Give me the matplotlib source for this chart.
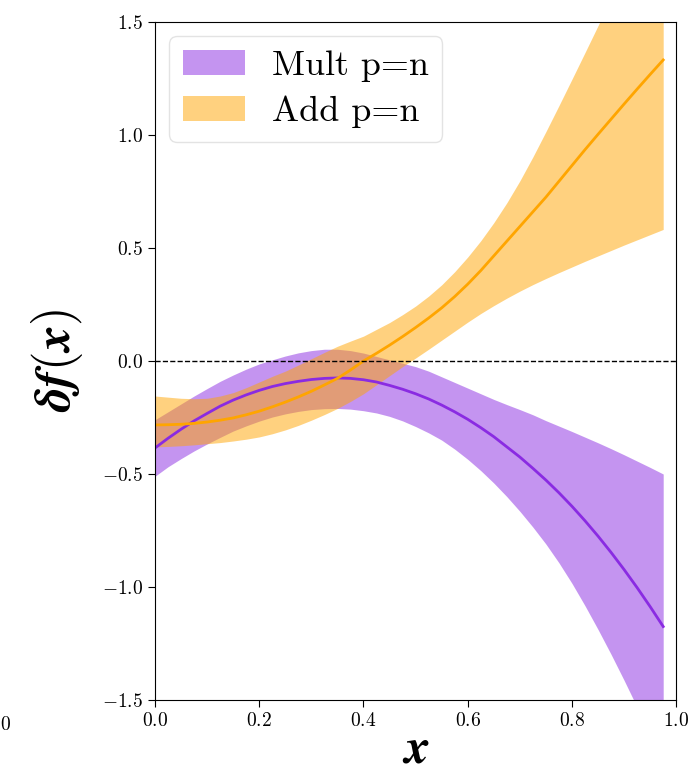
import numpy as np
import matplotlib
matplotlib.use("Agg")
import matplotlib.pyplot as plt

plt.rcParams['mathtext.fontset'] = 'cm'
plt.rcParams['font.family'] = 'serif'
plt.rcParams['font.serif'] = ['cmr10', 'DejaVu Serif']

# sample points
x = [0.0, 0.025, 0.05, 0.075, 0.10, 0.125, 0.15, 0.175, 0.20, 0.225,
     0.25, 0.275, 0.30, 0.325, 0.35, 0.375, 0.40, 0.425, 0.45, 0.475,
     0.50, 0.525, 0.55, 0.575, 0.60, 0.625, 0.65, 0.675, 0.70, 0.725,
     0.75, 0.775, 0.80, 0.825, 0.85, 0.875, 0.90, 0.925, 0.95, 0.975]

add_mid = [-0.283, -0.282, -0.280, -0.276, -0.270, -0.262, -0.252, -0.238, -0.222, -0.203,
           -0.182, -0.159, -0.134, -0.106, -0.077, -0.040, 0.0, 0.034, 0.070, 0.108,
           0.148, 0.190, 0.235, 0.285, 0.340, 0.400, 0.465, 0.530, 0.595, 0.660,
           0.725, 0.795, 0.865, 0.935, 1.003, 1.070, 1.137, 1.203, 1.268, 1.332]
add_hi = [-0.155, -0.160, -0.165, -0.167, -0.165, -0.155, -0.140, -0.118, -0.093, -0.068,
          -0.045, -0.018, 0.010, 0.038, 0.065, 0.088, 0.110, 0.140, 0.170, 0.205,
          0.243, 0.287, 0.337, 0.395, 0.460, 0.532, 0.612, 0.700, 0.797, 0.903,
          1.015, 1.130, 1.247, 1.365, 1.484, 1.603, 1.722, 1.840, 1.960, 2.080]
add_lo = [-0.380, -0.378, -0.375, -0.371, -0.366, -0.361, -0.354, -0.346, -0.336, -0.322,
          -0.305, -0.285, -0.262, -0.237, -0.210, -0.179, -0.145, -0.105, -0.065, -0.025,
          0.013, 0.052, 0.092, 0.132, 0.172, 0.210, 0.245, 0.278, 0.309, 0.338,
          0.365, 0.391, 0.416, 0.441, 0.465, 0.489, 0.513, 0.536, 0.559, 0.582]

mult_mid = [-0.385, -0.342, -0.302, -0.265, -0.232, -0.200, -0.173, -0.150, -0.130, -0.113,
            -0.100, -0.090, -0.082, -0.077, -0.075, -0.077, -0.083, -0.093, -0.108, -0.125,
            -0.145, -0.168, -0.195, -0.225, -0.258, -0.295, -0.335, -0.380, -0.425, -0.475,
            -0.527, -0.583, -0.643, -0.707, -0.775, -0.847, -0.923, -1.003, -1.087, -1.175]
mult_hi = [-0.260, -0.225, -0.190, -0.155, -0.122, -0.090, -0.062, -0.036, -0.013, 0.005,
           0.022, 0.036, 0.046, 0.052, 0.052, 0.046, 0.035, 0.020, 0.005, -0.010,
           -0.025, -0.045, -0.070, -0.095, -0.120, -0.145, -0.170, -0.193, -0.215, -0.238,
           -0.264, -0.288, -0.312, -0.337, -0.362, -0.388, -0.415, -0.443, -0.471, -0.500]
mult_lo = [-0.510, -0.468, -0.432, -0.398, -0.367, -0.338, -0.310, -0.287, -0.266, -0.248,
           -0.234, -0.223, -0.215, -0.211, -0.210, -0.213, -0.220, -0.230, -0.245, -0.265,
           -0.290, -0.318, -0.350, -0.390, -0.435, -0.485, -0.540, -0.600, -0.665, -0.735,
           -0.810, -0.893, -0.984, -1.083, -1.188, -1.298, -1.413, -1.532, -1.654, -1.778]

xticks = [0.0, 0.2, 0.4, 0.6, 0.8, 1.0]
yticks = [-1.5, -1.0, -0.5, 0.0, 0.5, 1.0, 1.5]

fig = plt.figure(figsize=(6.95, 7.79), dpi=100)
ax = fig.add_axes([0.223, 0.1014, 0.750, 0.8704])

ax.fill_between(x, mult_lo, mult_hi, color='blueviolet', alpha=0.5, lw=0, label='Mult p=n')
ax.plot(x, mult_mid, color='blueviolet', lw=2)
ax.fill_between(x, add_lo, add_hi, color='orange', alpha=0.5, lw=0, label='Add p=n')
ax.plot(x, add_mid, color='orange', lw=2)
ax.axhline(0, color='black', ls='--', lw=1)

ax.set_xlim(0, 1)
ax.set_ylim(-1.5, 1.5)
ax.set_xticks(xticks)
ax.set_yticks(yticks)
ax.set_xticklabels([r'$\mathbf{%.1f}$' % v for v in xticks])
ax.set_yticklabels([r'$\mathbf{%.1f}$' % v for v in yticks])
ax.tick_params(labelsize=14, direction='out', length=5)

ax.set_xlabel(r'$\boldsymbol{x}$', fontsize=36, labelpad=-2)
ax.set_ylabel(r'$\boldsymbol{\delta f(x)}$', fontsize=36, labelpad=12)

leg = ax.legend(loc='upper left', fontsize=26, frameon=True, fancybox=True,
                handlelength=1.7, borderpad=0.38, labelspacing=0.36, handletextpad=0.75,
                borderaxespad=0.4)
leg.get_frame().set_edgecolor('#dddddd')

# leftover from the neighbouring panel
fig.text(0.0, 0.069, r'$\mathbf{0}$', fontsize=14, ha='left', va='center')

fig.savefig('out.png', dpi=100)
